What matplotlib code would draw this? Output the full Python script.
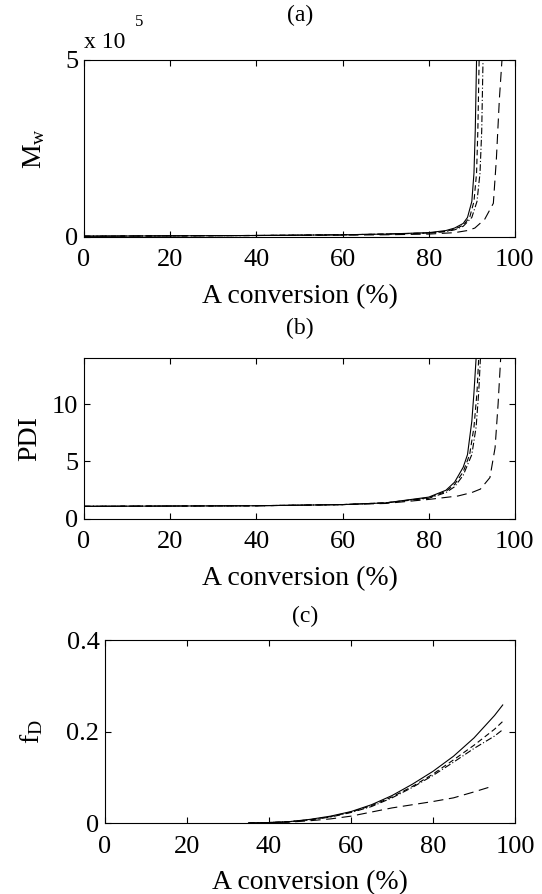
import numpy as np
import matplotlib
matplotlib.use("Agg")
import matplotlib.pyplot as plt

plt.rcParams['font.family'] = ['Liberation Serif', 'DejaVu Serif']
plt.rcParams['mathtext.fontset'] = 'custom'
plt.rcParams['mathtext.rm'] = 'Liberation Serif'
plt.rcParams['mathtext.it'] = 'Liberation Serif'

# (a) Mw, in units of 1e5
mw_x1 = [0, 20, 40, 60, 70, 80, 84, 86, 88, 89, 90, 90.5, 90.8, 91.1]
mw_y1 = [0.02, 0.03, 0.04, 0.06, 0.08, 0.12, 0.18, 0.25, 0.38, 0.55, 1.0, 1.8, 3.0, 5.0]
mw_x2 = [0, 20, 40, 60, 70, 80, 84, 86, 88, 89.5, 90.5, 91.1, 91.4, 91.7]
mw_y2 = [0.02, 0.03, 0.04, 0.06, 0.08, 0.11, 0.16, 0.22, 0.33, 0.55, 1.0, 1.8, 3.0, 5.0]
mw_x3 = [0, 20, 40, 60, 70, 80, 84, 86, 88, 90, 91.2, 91.9, 92.3, 92.6]
mw_y3 = [0.02, 0.03, 0.04, 0.06, 0.08, 0.11, 0.15, 0.2, 0.3, 0.55, 1.0, 1.8, 3.0, 5.0]
mw_x4 = [0, 20, 40, 60, 70, 80, 86, 89, 90.7, 93, 95, 95.7, 96.4, 97.0]
mw_y4 = [0.02, 0.03, 0.04, 0.05, 0.06, 0.08, 0.12, 0.18, 0.25, 0.5, 0.95, 2.2, 3.9, 5.0]

# (b) PDI
pdi_x1 = [0, 40, 60, 70, 80, 84, 86, 88, 89, 90, 90.5, 91]
pdi_y1 = [1.1, 1.15, 1.25, 1.4, 1.9, 2.5, 3.2, 4.5, 5.6, 8.5, 11, 14]
pdi_x2 = [0, 40, 60, 70, 80, 84, 86, 88, 89.5, 90.5, 91.2, 91.6]
pdi_y2 = [1.1, 1.15, 1.25, 1.4, 1.85, 2.4, 3.0, 4.1, 5.6, 8.0, 11, 14]
pdi_x3 = [0, 40, 60, 70, 80, 84, 86, 88, 90, 91, 91.6, 92.0]
pdi_y3 = [1.1, 1.15, 1.25, 1.4, 1.8, 2.3, 2.8, 3.8, 5.6, 8.0, 11, 14]
pdi_x4 = [0, 40, 60, 70, 80, 86.8, 90, 92, 94.2, 95.4, 96.1, 96.7]
pdi_y4 = [1.1, 1.15, 1.25, 1.35, 1.7, 2.0, 2.3, 2.6, 3.6, 6.2, 10, 14]

# (c) fD
fd_x1 = [35, 40, 45, 50, 55, 60, 65, 70, 75, 80, 85, 90, 95, 97]
fd_y1 = [0, 0.001, 0.003, 0.008, 0.015, 0.025, 0.04, 0.06, 0.085, 0.113, 0.146, 0.186, 0.235, 0.258]
fd_x2 = [35, 40, 45, 50, 55, 60, 65, 70, 75, 80, 85, 90, 95, 97]
fd_y2 = [0, 0.001, 0.003, 0.007, 0.014, 0.024, 0.038, 0.057, 0.08, 0.107, 0.138, 0.17, 0.205, 0.222]
fd_x3 = [35, 40, 45, 50, 55, 60, 65, 70, 75, 80, 85, 90, 95, 97]
fd_y3 = [0, 0.001, 0.003, 0.007, 0.013, 0.023, 0.036, 0.055, 0.078, 0.104, 0.133, 0.163, 0.19, 0.204]
fd_x4 = [35, 40, 45, 50, 55, 60, 65, 70, 75, 80, 85, 90, 94.7]
fd_y4 = [0, 0.001, 0.002, 0.005, 0.009, 0.015, 0.024, 0.033, 0.04, 0.047, 0.055, 0.068, 0.081]

styles = [dict(ls='-', lw=0.8), dict(ls=(0, (5, 3)), lw=0.8),
          dict(ls=(0, (6, 2, 1, 2)), lw=0.8), dict(ls=(0, (9, 5)), lw=0.8)]

fig = plt.figure(figsize=(5.42, 8.94), dpi=100)
ax_a = fig.add_axes([0.155, 0.735, 0.795, 0.198])
ax_b = fig.add_axes([0.155, 0.4195, 0.795, 0.180])
ax_c = fig.add_axes([0.1937, 0.0794, 0.7565, 0.2047])

fs = 19

def style(ax):
    ax.set_xlim(0, 100)
    ax.set_xticks([0, 20, 40, 60, 80, 100])
    ax.tick_params(direction='in', top=True, right=True, length=4, width=0.8, labelsize=fs)
    ax.tick_params(axis='x', pad=9)
    ax.tick_params(axis='y', pad=4)
    for s in ax.spines.values():
        s.set_linewidth(0.8)
    ax.set_xlabel('A conversion (%)', fontsize=20, labelpad=9)

for (xs, ys), st in zip([(mw_x1, mw_y1), (mw_x2, mw_y2), (mw_x3, mw_y3), (mw_x4, mw_y4)], styles):
    ax_a.plot(xs, ys, color='black', **st)
style(ax_a)
ax_a.set_ylim(0, 5)
ax_a.set_yticks([0, 5])
ax_a.set_ylabel('M$_\\mathrm{w}$', fontsize=20)
ax_a.yaxis.set_label_coords(-0.086, 0.5)
ax_a.text(0.0, 1.04, 'x 10', transform=ax_a.transAxes, fontsize=17, ha='left', va='bottom')
ax_a.text(0.118, 1.17, '5', transform=ax_a.transAxes, fontsize=12, ha='left', va='bottom')

for (xs, ys), st in zip([(pdi_x1, pdi_y1), (pdi_x2, pdi_y2), (pdi_x3, pdi_y3), (pdi_x4, pdi_y4)], styles):
    ax_b.plot(xs, ys, color='black', **st)
style(ax_b)
ax_b.set_ylim(0, 14)
ax_b.set_yticks([0, 5, 10])
ax_b.set_ylabel('PDI', fontsize=20)
ax_b.yaxis.set_label_coords(-0.097, 0.5)

for (xs, ys), st in zip([(fd_x1, fd_y1), (fd_x2, fd_y2), (fd_x3, fd_y3), (fd_x4, fd_y4)], styles):
    ax_c.plot(xs, ys, color='black', **st)
style(ax_c)
ax_c.set_ylim(0, 0.4)
ax_c.set_yticks([0, 0.2, 0.4])
ax_c.set_yticklabels(['0', '0.2', '0.4'])
ax_c.set_ylabel('f$_\\mathrm{D}$', fontsize=20)
ax_c.yaxis.set_label_coords(-0.146, 0.5)

fig.text(0.553, 0.983, '(a)', fontsize=17, ha='center', va='center')
fig.text(0.553, 0.633, '(b)', fontsize=17, ha='center', va='center')
fig.text(0.563, 0.310, '(c)', fontsize=17, ha='center', va='center')

fig.savefig('out.png', dpi=100)
